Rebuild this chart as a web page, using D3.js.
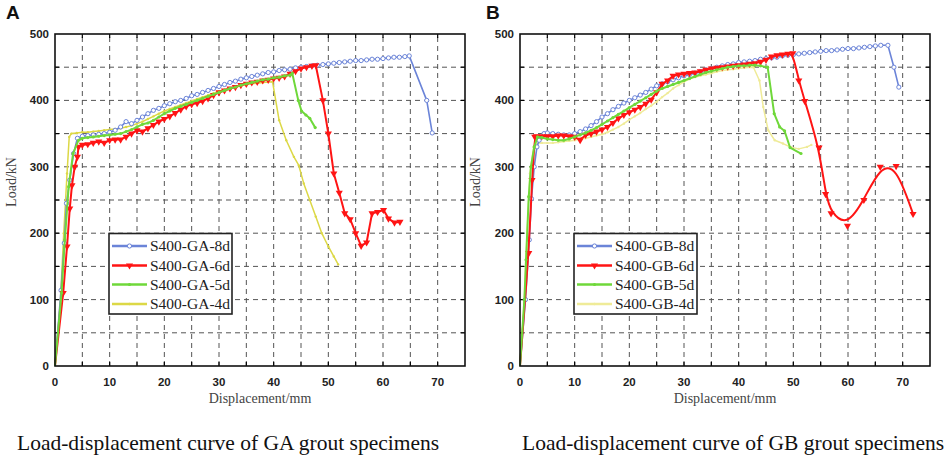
<!DOCTYPE html>
<html>
<head>
<meta charset="utf-8">
<script src="https://cdn.jsdelivr.net/npm/d3@7/dist/d3.min.js"></script>
<style>
  html, body { margin: 0; padding: 0; background: #fff; }
  svg { display: block; }
</style>
</head>
<body>
<svg id="chart" width="948" height="457"></svg>
<script>
// ---------------- DATA ----------------
const xTicks = [0, 10, 20, 30, 40, 50, 60, 70];
const yTicks = [0, 100, 200, 300, 400, 500];
const panelLabels = ["A", "B"];
const captions = ["Load-displacement curve of GA grout specimens", "Load-displacement curve of GB grout specimens"];
const namesA = ["S400-GA-8d", "S400-GA-6d", "S400-GA-5d", "S400-GA-4d"];
const namesB = ["S400-GB-8d", "S400-GB-6d", "S400-GB-5d", "S400-GB-4d"];

// Panel A  [displacement mm, load kN]
const ga8d = [[0,0],[1.1,114],[1.7,185],[2.1,245],[2.7,280],[3.4,320],[4.1,343],[5,346],[6,347],[7,348],[8,349],[9,350],[10,352],[11,355],[12,360],[13,368],[14,365],[15,370],[16,375],[17,380],[18,385],[19,388],[20,392],[21,395],[22,398],[23,400],[24,403],[25,407],[26,409],[27,412],[28,415],[29,418],[30,421],[31,424],[32,427],[33,429],[34,432],[35,434],[36,436],[37,438],[38,440],[39,442],[40,443],[41,445],[42,446],[43,447],[44,449],[45,450],[46,451],[47,452],[48,453],[49,454],[50,455],[51,456],[52,457],[53,458],[54,459],[55,460],[56,460],[57,461],[58,462],[59,462],[60,463],[61,464],[62,465],[63,465],[64,466],[64.8,467],[68,400],[69,351]];
const ga6d = [[0,0],[1.5,110],[2.2,180],[2.7,237],[3.1,272],[3.6,300],[4.1,315],[4.3,330],[5,333],[6,334],[7,336],[8,338],[9,336],[10,340],[11,341],[12,341],[13,345],[14,350],[15,355],[16,353],[17,358],[18,363],[19,368],[20,372],[21,376],[22,381],[23,386],[24,391],[25,394],[26,396],[27,399],[28,403],[29,408],[30,412],[31,415],[32,418],[33,420],[34,423],[35,425],[36,427],[37,428],[38,430],[39,431],[40,433],[41,434],[42,436],[43,440],[44,444],[45,448],[46,450],[47,452],[47.7,453],[49,400],[50,350],[51,290],[52,261],[53,230],[54,221],[55,200],[56,181],[57,186],[58,230],[59,232],[60.1,235],[61,222],[62.1,216],[63.1,217]];
const ga5d = [[0,0],[1.2,110],[1.8,190],[2.5,270],[3.3,320],[4.3,340],[5,343],[6,344],[7,345],[8,346],[9,347],[10,348],[11,349],[12,350],[13,353],[14,356],[15,360],[16,364],[17,366],[18,370],[19,375],[20,380],[21,384],[22,388],[23,391],[24,394],[25,397],[26,400],[27,403],[28,406],[29,409],[30,412],[31,415],[32,418],[33,420],[34,423],[35,425],[36,427],[37,429],[38,431],[39,432],[40,434],[41,435],[42,437],[43,438],[43.4,441],[44.5,400],[45.1,384],[45.9,378],[46.6,373],[47.6,359]];
const ga4d = [[0,0],[1.0,100],[1.6,200],[2.2,290],[2.6,345],[3,350],[4,351],[5,352],[6,352],[7,353],[8,354],[9,355],[10,356],[11,357],[12,358],[13,360],[14,362],[15,365],[16,368],[17,372],[18,376],[19,380],[20,384],[21,387],[22,390],[23,393],[24,396],[25,399],[26,402],[27,405],[28,408],[29,411],[30,414],[31,416],[32,418],[33,420],[34,422],[35,424],[36,425],[37,426],[38,427],[39.8,428],[41,370],[42.3,340],[43.7,315],[44.6,302],[45.5,275],[46.6,250],[47.7,225],[48.8,200],[50,180],[51,165],[51.8,153]];

// Panel B
const gb8d = [[0,0],[1.0,100],[1.7,190],[2.1,252],[2.6,300],[3.1,330],[3.5,340],[4.4,350],[5,351],[6,350],[7,349],[8,348],[9,348],[10,350],[11,353],[12,357],[13,362],[14,368],[15,375],[16,380],[17,386],[18,391],[19,396],[20,400],[21,404],[22,408],[23,412],[24,417],[25,422],[26,425],[27,428],[28,431],[29,434],[30,437],[31,439],[32,441],[33,443],[34,446],[35,448],[36,450],[37,452],[38,454],[39,455],[40,457],[41,458],[42,459],[43,460],[44,462],[45,463],[46,464],[47,465],[48,467],[49,468],[50,469],[51,470],[52,471],[53,472],[54,473],[55,474],[56,475],[57,475],[58,476],[59,477],[60,478],[61,478],[62,479],[63,480],[64,481],[65,482],[66,483],[67.3,483],[68.4,450],[69.3,420]];
const gb6d = [[0,0],[1.6,170],[2.2,280],[2.7,345],[3,346],[4,346],[5,346],[6,346],[7,347],[8,347],[9,346],[10,345],[11,340],[12,348],[13,350],[14,353],[15,356],[16,360],[17,366],[18,373],[19,378],[20,382],[21,386],[22,390],[23,395],[24,401],[25,412],[26,425],[27,430],[28,437],[29,439],[30,440],[31,441],[32,442],[33,444],[34,446],[35,448],[36,449],[37,450],[38,451],[39,452],[40,453],[41,454],[42,455],[43,456],[44,458],[45,461],[46,466],[47,468],[48,469],[49,470],[49.9,471],[51,430],[52.1,399],[54.7,329],[55.9,259],[56.9,230],[59.9,211],[62.9,250],[65.9,300],[68.8,301],[71.9,229]];
const gb5d = [[0,0],[0.8,100],[1.1,160],[1.6,255],[2,300],[2.6,330],[3.2,345],[4,344],[5,342],[6,341],[7,340],[8,340],[9,342],[10,345],[11,348],[12,351],[13,355],[14,359],[15,364],[16,369],[17,374],[18,379],[19,384],[20,389],[21,394],[22,399],[23,404],[24,409],[25,414],[26,418],[27,421],[28,424],[29,427],[30,430],[31,433],[32,436],[33,439],[34,442],[35,444],[36,446],[37,448],[38,450],[39,451],[40,452],[41,452],[42,453],[43,453],[44,452],[45.3,450],[46.5,380],[47.5,360],[48.4,354],[49.4,329],[51.4,320]];
const gb4d = [[0,0],[0.8,100],[1.3,200],[1.8,290],[2.5,330],[3,335],[4,336],[5,336],[6,336],[7,337],[8,338],[9,339],[10,340],[11,342],[12,343],[13,345],[14,347],[15,349],[16,352],[17,356],[18,360],[19,365],[20,371],[21,376],[22,381],[23,387],[24,392],[25,398],[26,405],[27,411],[28,418],[29,423],[30,428],[31,432],[32,435],[33,437],[34,439],[35,441],[36,443],[37,445],[38,446],[39,447],[40,448],[41,449],[42.7,450],[43.8,430],[44.5,390],[45.4,355],[46.6,340],[48.1,335],[49.7,329],[51,327],[52.5,330],[53.3,333]];

// ---------------- STYLES ----------------
const styleA = [
  {color:"#6b84d8", width:1.6, marker:"circle"},
  {color:"#ff1414", width:2, marker:"tri"},
  {color:"#6fd83a", width:2, marker:"dot"},
  {color:"#dcd846", width:1.5, marker:"small"}
];
const styleB = [
  {color:"#6b84d8", width:1.6, marker:"circle"},
  {color:"#ff1414", width:2, marker:"tri"},
  {color:"#6fd83a", width:2, marker:"dot"},
  {color:"#efeb98", width:1.5, marker:"small"}
];

const svg = d3.select("#chart");
svg.append("rect").attr("width",948).attr("height",457).attr("fill","#fff");

const serif = "'Liberation Serif','Times New Roman',serif";
const sans = "'Liberation Sans',Arial,sans-serif";

function drawMarker(g, s, x, y) {
  if (s.marker === "circle") {
    g.append("circle").attr("cx",x).attr("cy",y).attr("r",2.1)
      .attr("fill","#fff").attr("stroke",s.color).attr("stroke-width",1);
  } else if (s.marker === "tri") {
    g.append("path").attr("d", d3.symbol().type(d3.symbolTriangle).size(22)())
      .attr("transform",`translate(${x},${y}) rotate(180)`).attr("fill",s.color);
  } else if (s.marker === "dot") {
    g.append("circle").attr("cx",x).attr("cy",y).attr("r",1.6).attr("fill",s.color);
  } else {
    g.append("circle").attr("cx",x).attr("cy",y).attr("r",1.2).attr("fill",s.color);
  }
}

function panel(cfg) {
  const x = d3.scaleLinear().domain([0,75]).range([cfg.left, cfg.right]);
  const y = d3.scaleLinear().domain([0,500]).range([366, 34]);
  const g = svg.append("g");

  // grid
  const gridX = d3.range(5, 75, 5);
  const gridY = d3.range(50, 500, 50);
  g.selectAll(".gx").data(gridX).enter().append("line")
    .attr("x1",d=>x(d)).attr("x2",d=>x(d)).attr("y1",y(0)).attr("y2",y(500))
    .attr("stroke","#555").attr("stroke-width",1).attr("stroke-dasharray","5,4");
  g.selectAll(".gy").data(gridY).enter().append("line")
    .attr("x1",x(0)).attr("x2",x(75)).attr("y1",d=>y(d)).attr("y2",d=>y(d))
    .attr("stroke","#555").attr("stroke-width",1).attr("stroke-dasharray","5,4");

  // inward ticks on all sides
  const tl = 4;
  gridX.forEach(d => {
    g.append("line").attr("x1",x(d)).attr("x2",x(d)).attr("y1",y(0)).attr("y2",y(0)-tl).attr("stroke","#000").attr("stroke-width",1.2);
    g.append("line").attr("x1",x(d)).attr("x2",x(d)).attr("y1",y(500)).attr("y2",y(500)+tl).attr("stroke","#000").attr("stroke-width",1.2);
  });
  gridY.forEach(d => {
    g.append("line").attr("x1",x(0)).attr("x2",x(0)+tl).attr("y1",y(d)).attr("y2",y(d)).attr("stroke","#000").attr("stroke-width",1.2);
    g.append("line").attr("x1",x(75)).attr("x2",x(75)-tl).attr("y1",y(d)).attr("y2",y(d)).attr("stroke","#000").attr("stroke-width",1.2);
  });

  // series
  const order = [3,0,1,2];
  order.forEach(i => {
    const s = cfg.styles[i];
    const data = cfg.series[i];
    const curve = (cfg.basisIndex === i) ? d3.curveBasis : d3.curveLinear;
    const line = d3.line().x(d=>x(d[0])).y(d=>y(d[1])).curve(curve);
    const sg = g.append("g");
    sg.append("path").attr("d", line(data)).attr("fill","none")
      .attr("stroke", s.color).attr("stroke-width", s.width).attr("stroke-linejoin","round");
    data.forEach(d => { if (d[0] > 0) drawMarker(sg, s, x(d[0]), y(d[1])); });
  });

  // frame
  g.append("rect").attr("x",x(0)).attr("y",y(500)).attr("width",x(75)-x(0)).attr("height",y(0)-y(500))
    .attr("fill","none").attr("stroke","#111").attr("stroke-width",1.6);

  // tick labels
  g.selectAll(".xl").data(xTicks).enter().append("text")
    .attr("x",d=>x(d)).attr("y",386).attr("text-anchor","middle")
    .attr("font-family",sans).attr("font-weight","bold").attr("font-size",11.5).attr("fill","#222")
    .text(d=>d);
  g.selectAll(".yl").data(yTicks).enter().append("text")
    .attr("x",x(0)-6).attr("y",d=>y(d)+4).attr("text-anchor","end")
    .attr("font-family",sans).attr("font-weight","bold").attr("font-size",11.5).attr("fill","#222")
    .text(d=>d);

  // axis titles
  g.append("text").attr("x",(x(0)+x(75))/2).attr("y",403).attr("text-anchor","middle")
    .attr("font-family",serif).attr("font-size",14).attr("fill","#444").text("Displacement/mm");
  g.append("text").attr("transform",`translate(${cfg.ylabX},182) rotate(-90)`).attr("text-anchor","middle")
    .attr("font-family",serif).attr("font-size",14).attr("fill","#444").text("Load/kN");

  // panel label
  g.append("text").attr("x",cfg.labelX).attr("y",19).attr("font-family",sans).attr("font-weight","bold")
    .attr("font-size",19).attr("fill","#111").text(cfg.label);

  // legend
  const lg = g.append("g");
  lg.append("rect").attr("x",cfg.legX).attr("y",233.5).attr("width",123).attr("height",80.5)
    .attr("fill","#fff").attr("stroke","#222").attr("stroke-width",1.6);
  const rowsY = [246, 265.5, 284.5, 304];
  cfg.names.forEach((n,i) => {
    const s = cfg.styles[i];
    const ly = rowsY[i];
    lg.append("line").attr("x1",cfg.legX+3).attr("x2",cfg.legX+38).attr("y1",ly).attr("y2",ly)
      .attr("stroke",s.color).attr("stroke-width",2.4);
    drawMarker(lg, s, cfg.legX+20.5, ly);
    lg.append("text").attr("x",cfg.legX+41).attr("y",ly+5.2)
      .attr("font-family",serif).attr("font-size",15.5).attr("fill","#222").text(n);
  });

  // caption
  svg.append("text").attr("x",cfg.capX).attr("y",450).attr("font-family",serif)
    .attr("font-size",21.5).attr("fill","#111").text(cfg.caption);
}

panel({left:55, right:465, series:[ga8d,ga6d,ga5d,ga4d], styles:styleA, names:namesA,
       label:panelLabels[0], labelX:6, ylabX:16, legX:109, caption:captions[0], capX:17, basisIndex:-1});
panel({left:520, right:930, series:[gb8d,gb6d,gb5d,gb4d], styles:styleB, names:namesB,
       label:panelLabels[1], labelX:486, ylabX:480, legX:574, caption:captions[1], capX:522, basisIndex:1});
</script>
</body>
</html>
